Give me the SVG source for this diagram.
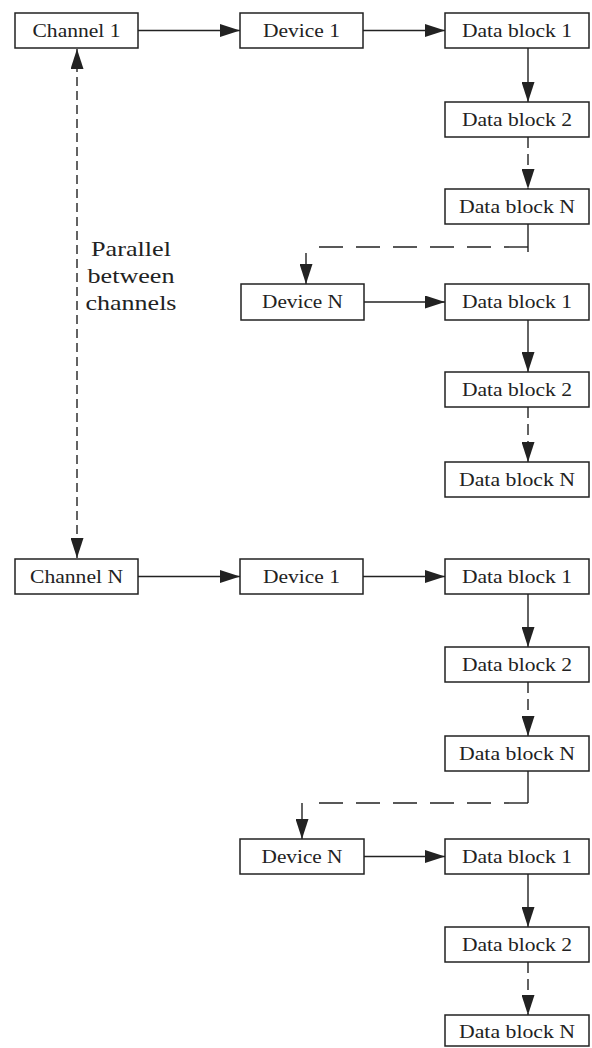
<svg xmlns="http://www.w3.org/2000/svg" width="592" height="1048" viewBox="0 0 592 1048">
<style>
.box{fill:#fff;stroke:#222;stroke-width:1.5}
.t{font-family:"Liberation Serif","Times New Roman",serif;font-size:18px;fill:#222;text-anchor:middle}
.lbl{font-family:"Liberation Serif","Times New Roman",serif;font-size:21px;fill:#222;text-anchor:middle}
.ln{fill:none;stroke:#222;stroke-width:1.4}
.dv{stroke-dasharray:11 6}
.dh{stroke-dasharray:24 13}
.dd{stroke-dasharray:9 5}
</style>
<defs>
<marker id="ah" markerUnits="userSpaceOnUse" markerWidth="20" markerHeight="13" refX="20" refY="6.5" orient="auto-start-reverse">
<path d="M0,0 L20,6.5 L0,13 z" fill="#222"/>
</marker>
</defs>
<rect width="592" height="1048" fill="#fff"/>
<g id="connectors">
<line class="ln dd" x1="77" y1="49" x2="77" y2="558" marker-start="url(#ah)" marker-end="url(#ah)"/>
<line class="ln" x1="138" y1="30.5" x2="240" y2="30.5" marker-end="url(#ah)"/>
<line class="ln" x1="363" y1="30.5" x2="445" y2="30.5" marker-end="url(#ah)"/>
<line class="ln" x1="528" y1="48" x2="528" y2="102" marker-end="url(#ah)"/>
<line class="ln dv" x1="528" y1="137" x2="528" y2="189" marker-end="url(#ah)"/>
<line class="ln" x1="528" y1="224" x2="528" y2="252"/>
<line class="ln dh" x1="528" y1="247" x2="316" y2="247"/>
<line class="ln" x1="306" y1="253" x2="306" y2="284" marker-end="url(#ah)"/>
<line class="ln" x1="364" y1="302" x2="445" y2="302" marker-end="url(#ah)"/>
<line class="ln" x1="528" y1="320" x2="528" y2="372" marker-end="url(#ah)"/>
<line class="ln dv" x1="528" y1="407" x2="528" y2="462" marker-end="url(#ah)"/>
<line class="ln" x1="138" y1="576.5" x2="240" y2="576.5" marker-end="url(#ah)"/>
<line class="ln" x1="363" y1="576.5" x2="445" y2="576.5" marker-end="url(#ah)"/>
<line class="ln" x1="528" y1="594" x2="528" y2="647" marker-end="url(#ah)"/>
<line class="ln dv" x1="528" y1="682" x2="528" y2="736" marker-end="url(#ah)"/>
<line class="ln" x1="528" y1="771" x2="528" y2="803"/>
<line class="ln dh" x1="528" y1="803" x2="316" y2="803"/>
<line class="ln" x1="302" y1="803" x2="302" y2="839" marker-end="url(#ah)"/>
<line class="ln" x1="364" y1="856.5" x2="445" y2="856.5" marker-end="url(#ah)"/>
<line class="ln" x1="528" y1="874" x2="528" y2="927" marker-end="url(#ah)"/>
<line class="ln dv" x1="528" y1="962" x2="528" y2="1015" marker-end="url(#ah)"/>
</g>
<g id="parallel-label">
<text class="lbl" x="131" y="256" textLength="80" lengthAdjust="spacingAndGlyphs">Parallel</text>
<text class="lbl" x="131" y="283" textLength="87" lengthAdjust="spacingAndGlyphs">between</text>
<text class="lbl" x="131" y="310" textLength="91" lengthAdjust="spacingAndGlyphs">channels</text>
</g>
<g id="channel1"><rect class="box" x="15" y="13" width="123" height="35"/><text class="t" x="76.5" y="37" textLength="88" lengthAdjust="spacingAndGlyphs">Channel 1</text></g>
<g id="g1-device1"><rect class="box" x="240" y="13" width="123" height="35"/><text class="t" x="301.5" y="37" textLength="77" lengthAdjust="spacingAndGlyphs">Device 1</text></g>
<g id="g1-d1-block1"><rect class="box" x="445" y="13" width="144" height="35"/><text class="t" x="517" y="37" textLength="110" lengthAdjust="spacingAndGlyphs">Data block 1</text></g>
<g id="g1-d1-block2"><rect class="box" x="445" y="102" width="144" height="35"/><text class="t" x="517" y="126" textLength="110" lengthAdjust="spacingAndGlyphs">Data block 2</text></g>
<g id="g1-d1-blockN"><rect class="box" x="445" y="189" width="144" height="35"/><text class="t" x="517" y="213" textLength="116" lengthAdjust="spacingAndGlyphs">Data block N</text></g>
<g id="g1-deviceN"><rect class="box" x="241" y="284" width="123" height="36"/><text class="t" x="302.5" y="308" textLength="81" lengthAdjust="spacingAndGlyphs">Device N</text></g>
<g id="g1-dN-block1"><rect class="box" x="445" y="284" width="144" height="36"/><text class="t" x="517" y="308" textLength="110" lengthAdjust="spacingAndGlyphs">Data block 1</text></g>
<g id="g1-dN-block2"><rect class="box" x="445" y="372" width="144" height="35"/><text class="t" x="517" y="396" textLength="110" lengthAdjust="spacingAndGlyphs">Data block 2</text></g>
<g id="g1-dN-blockN"><rect class="box" x="445" y="462" width="144" height="35"/><text class="t" x="517" y="486" textLength="116" lengthAdjust="spacingAndGlyphs">Data block N</text></g>
<g id="channelN"><rect class="box" x="15" y="559" width="123" height="35"/><text class="t" x="76.5" y="583" textLength="93" lengthAdjust="spacingAndGlyphs">Channel N</text></g>
<g id="g2-device1"><rect class="box" x="240" y="559" width="123" height="35"/><text class="t" x="301.5" y="583" textLength="77" lengthAdjust="spacingAndGlyphs">Device 1</text></g>
<g id="g2-d1-block1"><rect class="box" x="445" y="559" width="144" height="35"/><text class="t" x="517" y="583" textLength="110" lengthAdjust="spacingAndGlyphs">Data block 1</text></g>
<g id="g2-d1-block2"><rect class="box" x="445" y="647" width="144" height="35"/><text class="t" x="517" y="671" textLength="110" lengthAdjust="spacingAndGlyphs">Data block 2</text></g>
<g id="g2-d1-blockN"><rect class="box" x="445" y="736" width="144" height="35"/><text class="t" x="517" y="760" textLength="116" lengthAdjust="spacingAndGlyphs">Data block N</text></g>
<g id="g2-deviceN"><rect class="box" x="240" y="839" width="124" height="35"/><text class="t" x="302" y="863" textLength="81" lengthAdjust="spacingAndGlyphs">Device N</text></g>
<g id="g2-dN-block1"><rect class="box" x="445" y="839" width="144" height="35"/><text class="t" x="517" y="863" textLength="110" lengthAdjust="spacingAndGlyphs">Data block 1</text></g>
<g id="g2-dN-block2"><rect class="box" x="445" y="927" width="144" height="35"/><text class="t" x="517" y="951" textLength="110" lengthAdjust="spacingAndGlyphs">Data block 2</text></g>
<g id="g2-dN-blockN"><rect class="box" x="445" y="1015" width="144" height="31"/><text class="t" x="517" y="1038" textLength="116" lengthAdjust="spacingAndGlyphs">Data block N</text></g>
</svg>
